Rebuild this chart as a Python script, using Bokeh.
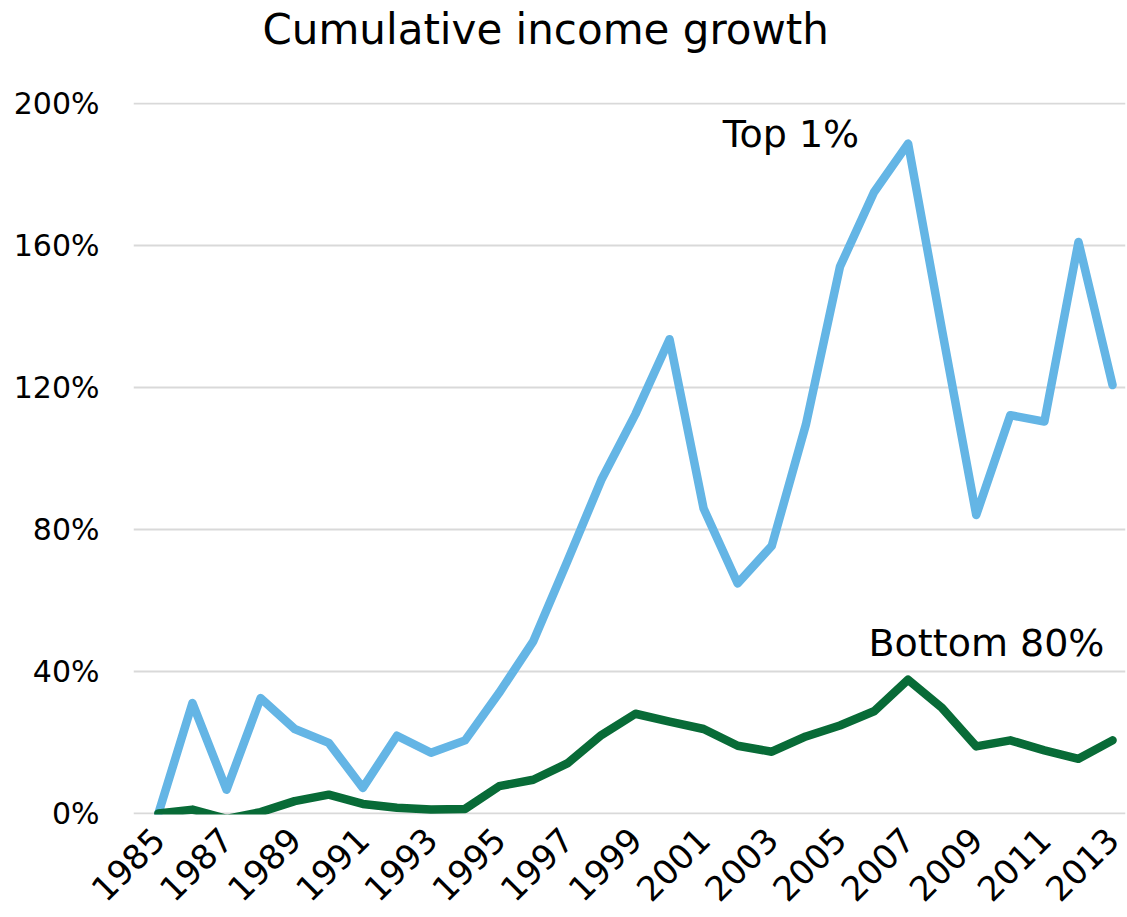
import numpy as np
from bokeh.plotting import figure
from bokeh.models import FixedTicker, PrintfTickFormatter, Range1d, Label, Title
from bokeh.embed import file_html
from bokeh.resources import INLINE

years = list(range(1985, 2014))
top1 = [0, 31.1, 6.7, 32.5, 23.8, 19.9, 7.2, 21.9, 17.1, 20.6, 34.0, 48.5, 71.0,
        94.0, 112.5, 133.6, 85.9, 64.8, 75.4, 109.5, 154.0, 175.0, 188.7, 136.0,
        84.1, 112.2, 110.4, 161.0, 120.7]
bottom80 = [0, 1.1, -1.5, 0.4, 3.5, 5.3, 2.7, 1.6, 1.1, 1.3, 7.7, 9.5, 14.1, 22.1,
            28.1, 25.9, 23.8, 19.1, 17.4, 21.7, 24.8, 28.8, 37.7, 29.7, 18.9, 20.6,
            17.8, 15.4, 20.6]
y_ticks = [0, 40, 80, 120, 160, 200]
x_ticks = years[::2]
series_names = ["Top 1%", "Bottom 80%"]
title_text = "Cumulative income growth"

FONT = "DejaVu Sans"
BLUE = "#64B5E5"
GREEN = "#086B37"

p = figure(width=1127, height=917, output_backend="svg", toolbar_location=None,
           x_range=Range1d(1984.27, 2013.38), y_range=Range1d(-0.28, 200.28),
           min_border_left=133, min_border_right=2, min_border_top=102,
           min_border_bottom=103, title=None)
p.outline_line_color = None
p.background_fill_color = "white"
p.border_fill_color = "white"

p.line(years, top1, line_color=BLUE, line_width=8.5, line_join="round", line_cap="round")
p.line(years, bottom80, line_color=GREEN, line_width=8.5, line_join="round", line_cap="round")

p.xgrid.grid_line_color = None
p.ygrid.grid_line_color = "#D9D9D9"
p.ygrid.grid_line_width = 2
p.yaxis.ticker = FixedTicker(ticks=y_ticks)
p.yaxis.formatter = PrintfTickFormatter(format="%d%%")
p.xaxis.ticker = FixedTicker(ticks=x_ticks)
for ax in (p.xaxis, p.yaxis):
    ax.axis_line_color = None
    ax.major_tick_line_color = None
    ax.minor_tick_line_color = None
    ax.major_label_text_font = FONT
    ax.major_label_text_color = "black"
p.yaxis.major_label_text_font_size = "30px"
p.xaxis.major_label_text_font_size = "34px"
p.yaxis.major_label_standoff = 28
p.xaxis.major_label_standoff = 13
p.xaxis.major_label_orientation = np.pi / 4

p.add_layout(Label(x=2001.56, y=191.5, text=series_names[0], text_font=FONT,
                   text_font_size="38px", text_color="black",
                   text_align="left", text_baseline="alphabetic"))
p.add_layout(Label(x=2005.84, y=48.0, text=series_names[1], text_font=FONT,
                   text_font_size="38px", text_color="black",
                   text_align="left", text_baseline="alphabetic"))

# spacer (nearest the frame), then the visible title above it
p.add_layout(Title(text=" ", text_font_size="1px", standoff=46), "above")
p.add_layout(Title(text=title_text, align="left", offset=129, standoff=0,
                   text_font=FONT, text_font_size="42px", text_font_style="normal",
                   text_color="black"), "above")

open("out.html", "w").write(file_html(p, INLINE))
